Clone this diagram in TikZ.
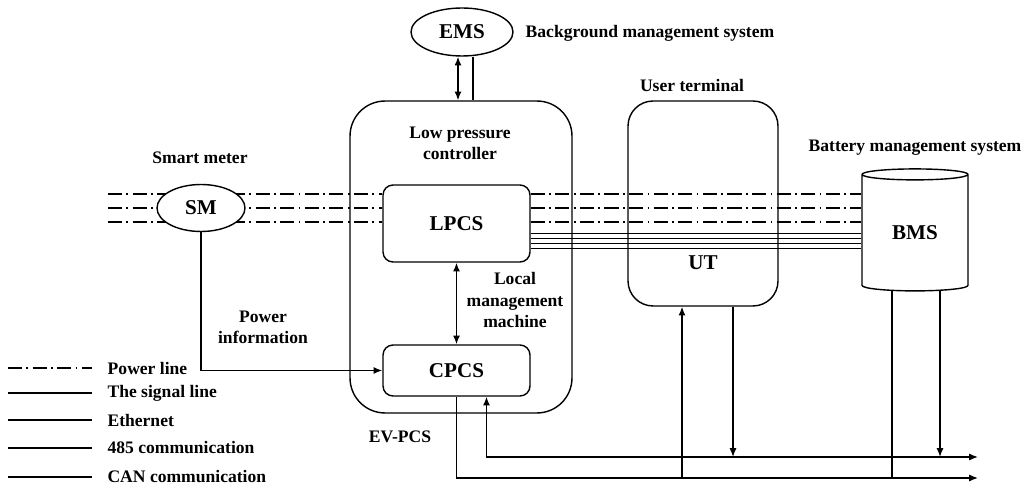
\documentclass[tikz,border=0pt]{standalone}
\usepackage{fontspec}
\setmainfont{Liberation Serif}
\usetikzlibrary{positioning, shapes.geometric, arrows.meta, calc, backgrounds}

\begin{document}
\begin{tikzpicture}[x=0.02cm, y=-0.02cm, >={Latex[length=5pt,width=4pt]}, line width=0.8pt,
    font=\bfseries\fontsize{10}{12}\selectfont,
    bigfont/.style={font=\bfseries\fontsize{12}{14}\selectfont},
    unitbox/.style={draw, rounded corners=0.2cm, minimum width=2.94cm, inner sep=0pt, bigfont},
    ovalbox/.style={draw, ellipse, inner sep=0pt, bigfont},
    casing/.style={draw, rounded corners=#1, inner sep=0pt},
    powerline/.style={line width=1pt, dash pattern=on 8pt off 2.5pt on 1pt off 2.5pt},
    tag/.style={align=center, inner sep=0pt}]

    \useasboundingbox (0,0) rectangle (1026,499);

    % --- boxes ---
    \node[casing=0.7cm, minimum width=4.44cm, minimum height=6.24cm] (evpcs) at (461,257) {};
    \node[casing=0.5cm, minimum width=3cm, minimum height=4.1cm] (ut) at (703,203.5) {};
    \node[unitbox, minimum height=1.54cm] (lpcs) at (456.5,223.5) {LPCS};
    \node[unitbox, minimum height=1.02cm] (cpcs) at (456.5,370.5) {CPCS};
    \node[ovalbox, minimum width=2.04cm, minimum height=0.96cm] (ems) at (462,32) {EMS};
    \node[ovalbox, fill=white, minimum width=1.76cm, minimum height=0.94cm] (sm) at (201,208) {SM};
    \node[cylinder, draw, shape border rotate=90, aspect=0.24, inner sep=0pt,
          minimum width=2.12cm, minimum height=2.44cm, bigfont] (bms) at (915,233) {BMS};
    \node[bigfont] (ut-txt) at (703,263) {UT};

    % --- labels ---
    \node[anchor=west, inner sep=0pt] (ems-lbl) at (525,33) {Background management system};
    \node[tag] (lpc-lbl) at (460,143) {Low pressure\\controller};
    \node[tag] (lmm-lbl) at (515,300) {Local\\management\\machine};
    \node[tag] (sm-lbl) at (200,158) {Smart meter};
    \node[tag] (pi-lbl) at (263,327) {Power\\information};
    \node[tag] (ut-lbl) at (692,85) {User terminal};
    \node[tag] (bms-lbl) at (915,148) {Battery management system};
    \node[tag] (ev-lbl) at (400,437) {EV-PCS};

    % --- power and data lines ---
    \coordinate (grid) at (108,208);
    \begin{scope}[on background layer]
        \foreach \dy in {-14,0,14} {
            \draw[powerline] (grid) ++(0,\dy) coordinate (p) -- (p -| lpcs.west);
            \draw[powerline] (lpcs.east |- p) -- (p -| bms.west);
        }
        \foreach \dy in {25,30,35,40}
            \draw (grid) ++(0,\dy) coordinate (q) (lpcs.east |- q) -- (q -| bms.west);
    \end{scope}

    \path (ems.south) ++(-4,0) coordinate (e1)
          (ems.south) ++(11,0) coordinate (e2)
          (cpcs.south) ++(30,0) coordinate (c1)
          (ut.south) ++(-21,0) coordinate (u1)
          (ut.south) ++(30,0) coordinate (u2)
          (bms.south) ++(-23,-1) coordinate (b1)
          (bms.south) ++(25,-1) coordinate (b2);
    \coordinate (bus-a) at (978,457);
    \coordinate (bus-b) at (978,478);

    \draw[<->] (e1) -- (e1 |- evpcs.north);
    \draw (e2) -- (e2 |- evpcs.north);
    \draw[<->] (lpcs.south) -- (cpcs.north);
    \draw[->] (sm.south) |- (cpcs.west);

    \draw[->] (cpcs.south) |- (bus-b);
    \draw[<->] (c1) |- (bus-a);
    \draw[<-] (u1) -- (u1 |- bus-b);
    \draw[->] (u2) -- (u2 |- bus-a);
    \draw (b1) -- (b1 |- bus-b);
    \draw[->] (b2) -- (b2 |- bus-a);

    % --- legend ---
    \coordinate (key) at (8,368);
    \draw[powerline] (key) -- ++(84,0) node[anchor=west, xshift=0.18cm] (key-0) {Power line};
    \foreach \i/\dy/\txt in {1/25/The signal line, 2/52/Ethernet, 3/80/485 communication, 4/109/CAN communication}
        \draw (key) ++(0,\dy) coordinate (k) -- ++(84,0) node[anchor=west, xshift=0.18cm] (key-\i) {\txt};

\end{tikzpicture}
\end{document}
